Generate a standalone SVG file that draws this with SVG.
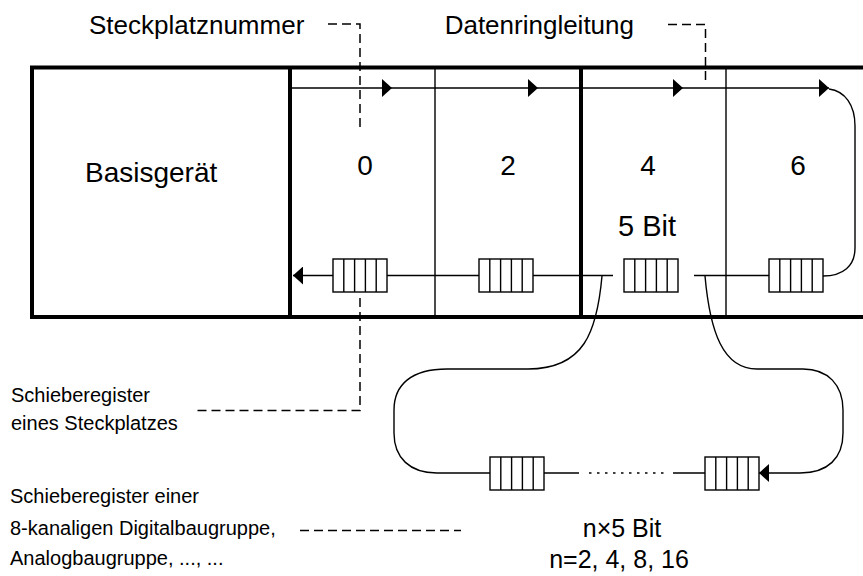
<svg xmlns="http://www.w3.org/2000/svg" xmlns:xlink="http://www.w3.org/1999/xlink" width="863" height="576" viewBox="0 0 863 576">
<style>
text{font-family:"Liberation Sans",Arial,sans-serif;fill:#000}
.big{font-size:28px}
.lab{font-size:26px}
.sm{font-size:20px}
.mid{font-size:25px}
.thick{stroke:#000;stroke-width:4;fill:none}
.thin{stroke:#000;stroke-width:1.4;fill:none}
.dash{stroke:#000;stroke-width:1.5;fill:none;stroke-dasharray:9 5}
.dot{stroke:#000;stroke-width:1.5;fill:none;stroke-dasharray:2.5 5.5}
.reg rect{fill:#fff;stroke:#000;stroke-width:1.4}
.reg path{stroke:#000;stroke-width:1.4}
</style>
<defs>
<marker id="arr" markerUnits="userSpaceOnUse" markerWidth="10" markerHeight="18" refX="10" refY="9" orient="auto" viewBox="0 0 10 18">
<path d="M0,0 L10,9 L0,18 z" fill="#000"/>
</marker>
<g id="reg" class="reg">
<rect x="0" y="0" width="54" height="33"/>
<path d="M10.8,0v33M21.6,0v33M32.4,0v33M43.2,0v33"/>
</g>
</defs>
<rect width="863" height="576" fill="#fff"/>

<g id="frame">
<path class="thin" d="M435,67V317M726,67V317"/>
<path class="thick" d="M30,67.5H863M30,317H863M32,65.5V319M290,65.5V319M581,65.5V319"/>
</g>

<g id="connectors">
<path class="thin" d="M290,88H392" marker-end="url(#arr)"/>
<path class="thin" d="M392,88H538" marker-end="url(#arr)"/>
<path class="thin" d="M538,88H683" marker-end="url(#arr)"/>
<path class="thin" d="M683,88H829" marker-end="url(#arr)"/>
<path class="thin" d="M829,89C845,91 855,105 855,126V248C855,266 843,276 823,276"/>
<path class="thin" d="M333,275.5H293" marker-end="url(#arr)"/>
<path class="thin" d="M387,275.5H479M532,275.5H613M694,275.5H769"/>
<path class="thin" d="M602,276C597,332 584,369 528,369H447C411,369 394,385 394,410V433C394,458 410,473 437,473H490M543,473H579M673,473H705"/>
<path class="dot" d="M589,473H665"/>
<path class="thin" d="M705,276C710,332 723,369 757,369H803C828,369 843,385 843,410V433C843,458 828,473 800,473H759" marker-end="url(#arr)"/>
<path class="dash" d="M328,24H360V130"/>
<path class="dash" d="M360,298V410.5H197"/>
<path class="dash" d="M668,24.5H705.5V84"/>
<path class="dash" d="M300,530.5H461"/>
</g>

<g id="basisgeraet">
<text class="big" x="85" y="182">Basisgerät</text>
</g>
<g id="slot0">
<text class="big" x="365" y="175" text-anchor="middle">0</text>
<use xlink:href="#reg" x="333" y="259"/>
</g>
<g id="slot2">
<text class="big" x="508" y="175" text-anchor="middle">2</text>
<use xlink:href="#reg" x="479" y="259"/>
</g>
<g id="slot4">
<text class="big" x="648" y="175" text-anchor="middle">4</text>
<text class="big" x="647" y="236" text-anchor="middle" style="font-size:29px">5 Bit</text>
<use xlink:href="#reg" x="624" y="259"/>
</g>
<g id="slot6">
<text class="big" x="798" y="175" text-anchor="middle">6</text>
<use xlink:href="#reg" x="769" y="259"/>
</g>
<g id="module">
<use xlink:href="#reg" x="490" y="457"/>
<use xlink:href="#reg" x="705" y="457"/>
<text class="mid" x="622" y="537" text-anchor="middle">n×5 Bit</text>
<text class="mid" x="619" y="568" text-anchor="middle">n=2, 4, 8, 16</text>
</g>
<g id="labels">
<text class="lab" x="89" y="34">Steckplatznummer</text>
<text class="lab" x="634" y="34" text-anchor="end">Datenringleitung</text>
<text class="sm" x="11" y="402">Schieberegister</text>
<text class="sm" x="11" y="430">eines Steckplatzes</text>
<text class="sm" x="10" y="503">Schieberegister einer</text>
<text class="sm" x="10" y="535">8-kanaligen Digitalbaugruppe,</text>
<text class="sm" x="10" y="565">Analogbaugruppe, ..., ...</text>
</g>
</svg>
